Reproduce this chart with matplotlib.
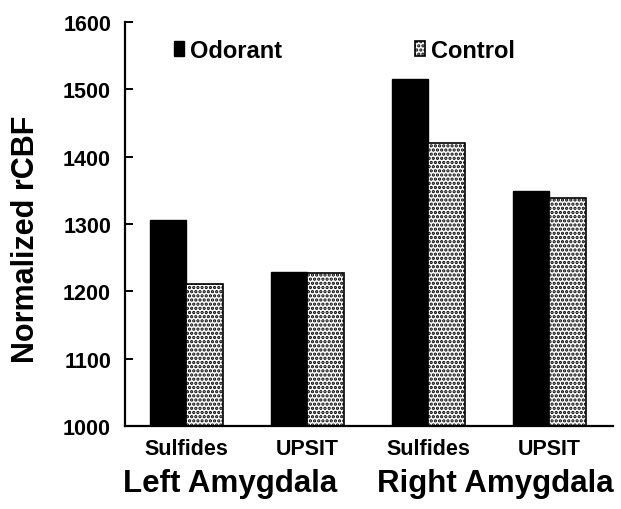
import numpy as np
import matplotlib
matplotlib.use("Agg")
import matplotlib.pyplot as plt

plt.rcParams['font.family'] = ['Liberation Sans', 'DejaVu Sans']
plt.rcParams['font.weight'] = 'bold'
plt.rcParams['hatch.linewidth'] = 1.6

groups = ['Sulfides', 'UPSIT', 'Sulfides', 'UPSIT']
regions = ['Left Amygdala', 'Right Amygdala']
odorant = [1306, 1229, 1516, 1349]
control = [1211, 1227, 1421, 1339]
yticks = [1000, 1100, 1200, 1300, 1400, 1500, 1600]

fig = plt.figure(figsize=(6.21, 5.10), dpi=100)
ax = fig.add_axes([0.2013, 0.1627, 0.7858, 0.7922])

x = np.arange(len(groups))
w = 0.3
ax.bar(x - w / 2, odorant, w, color='black', edgecolor='black',
       linewidth=1, label='Odorant')
ax.bar(x + w / 2, control, w, color='white', edgecolor='black',
       hatch='....', linewidth=1.2, label='Control')

ax.set_ylim(1000, 1600)
ax.set_xlim(-0.508, 3.525)
ax.set_yticks(yticks)
ax.set_xticks(x)
ax.set_xticklabels(groups, fontsize=15.5, fontweight='bold')
ax.tick_params(axis='x', length=0, pad=8.5)
ax.tick_params(axis='y', direction='in', length=6, width=1.4, pad=10,
               labelsize=15.5)
for lab in ax.get_yticklabels():
    lab.set_fontweight('bold')

for s in ['top', 'right']:
    ax.spines[s].set_visible(False)
for s in ['left', 'bottom']:
    ax.spines[s].set_linewidth(1.6)

ax.legend(loc='center left', bbox_to_anchor=(0.1, 0.93), ncol=2,
          frameon=False, borderpad=0, borderaxespad=0,
          handlelength=0.45, handleheight=0.6, handletextpad=0.25,
          columnspacing=5.6, prop={'weight': 'bold', 'size': 17})

fig.text(0.042, 0.531, 'Normalized rCBF', rotation=90, ha='center',
         va='center', fontsize=22, fontweight='bold')
fig.text(230 / 621, 0.035, regions[0], ha='center', va='baseline',
         fontsize=22.5, fontweight='bold')
fig.text(495 / 621, 0.035, regions[1], ha='center', va='baseline',
         fontsize=22.5, fontweight='bold')

fig.savefig('out.png', dpi=100)
